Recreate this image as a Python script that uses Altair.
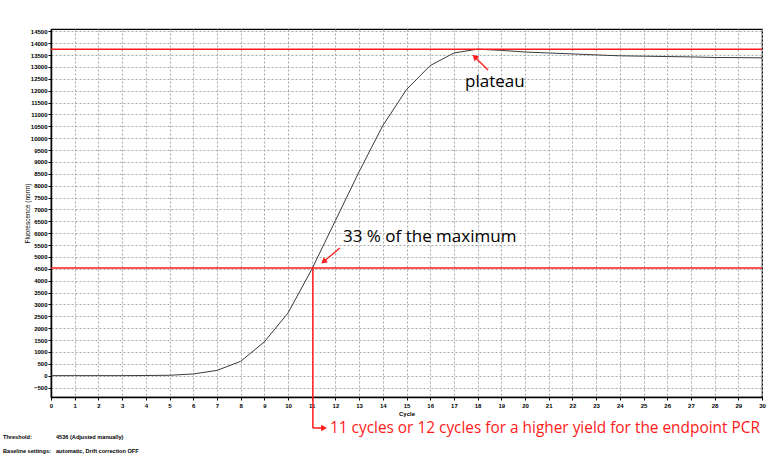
import altair as alt
import pandas as pd

cycles = list(range(0, 31))
fluorescence = [0, 0, 0, 0, 5, 15, 70, 220, 600, 1420, 2640, 4470, 6530, 8590,
                10530, 12050, 13060, 13590, 13750, 13700, 13630, 13590, 13550,
                13510, 13470, 13455, 13440, 13425, 13400, 13395, 13385]
y_ticks = list(range(-500, 15000, 500))
x_ticks = list(range(0, 31))
plateau_level = 13750
threshold_level = 4536
threshold_cycle = 11.05

df = pd.DataFrame({"Cycle": cycles, "Fluorescence": fluorescence})

W, H = 711, 368
LEFT, TOP = 51, 29

xs = alt.Scale(domain=[0, 30], nice=False, zero=False)
ys = alt.Scale(domain=[-900, 14600], nice=False, zero=False)

FONT = "Liberation Sans"
ANNOT = "Open Sans"

x_axis = alt.Axis(values=x_ticks, format="d", grid=True,
                  gridColor="#a8a8a8", gridDash=[2, 2], gridWidth=1,
                  domainColor="black", domainWidth=1.5,
                  tickColor="black", tickSize=3,
                  labelOverlap=False, labelFlush=False,
                  labelFont=FONT, labelFontSize=6, labelFontWeight="bold",
                  labelColor="black", labelPadding=2,
                  titleFont=FONT, titleFontSize=6, titleFontWeight="bold",
                  titleColor="black", titlePadding=2)
y_axis = alt.Axis(values=y_ticks, format="d", grid=True,
                  gridColor="#a8a8a8", gridDash=[2, 2], gridWidth=1,
                  domainColor="black", domainWidth=1.5,
                  tickColor="black", tickSize=3,
                  labelOverlap=False, labelFlush=False,
                  labelFont=FONT, labelFontSize=6, labelFontWeight="bold",
                  labelColor="black", labelPadding=1,
                  titleFont=FONT, titleFontSize=6.5, titleFontWeight="normal",
                  titleColor="black", titlePadding=0)


def X(field):
    return alt.X(field, scale=xs, axis=x_axis, title="Cycle")


def Y(field):
    return alt.Y(field, scale=ys, axis=y_axis, title="Fluorescence (norm)")


line = alt.Chart(df).mark_line(color="#3a3a3a", strokeWidth=1).encode(
    x=X("Cycle:Q"), y=Y("Fluorescence:Q"))

red = "#ff1a1a"

hrules = alt.Chart(pd.DataFrame({"y": [plateau_level, threshold_level]})).mark_rule(
    color=red, strokeWidth=1.5).encode(y=Y("y:Q"))

vrule = alt.Chart(pd.DataFrame({"x": [threshold_cycle], "y": [threshold_level]})).mark_rule(
    color=red, strokeWidth=1.5, clip=False).encode(
    x=X("x:Q"), y=Y("y:Q"), y2=alt.value(399))

hseg = alt.Chart(pd.DataFrame({"x": [threshold_cycle], "x2": [11.45]})).mark_rule(
    color=red, strokeWidth=1.5, clip=False).encode(
    x=X("x:Q"), x2="x2:Q", y=alt.value(399))

arrows = pd.DataFrame({
    "x": [12.19, 18.44], "y": [5374, 12871],
    "x2": [11.52, 17.9], "y2": [4820, 13400],
})
shafts = alt.Chart(arrows).mark_rule(color=red, strokeWidth=1.3, clip=False).encode(
    x=X("x:Q"), y=Y("y:Q"), x2="x2:Q", y2="y2:Q")

heads = pd.DataFrame({
    "x": [11.5, 17.88], "y": [4800, 13430], "angle": [230, 315],
})
head_marks = alt.Chart(heads).mark_point(shape="triangle-up", filled=True, color=red,
                                         size=45, opacity=1, clip=False).encode(
    x=X("x:Q"), y=Y("y:Q"),
    angle=alt.Angle("angle:Q", scale=None))

head_bottom = alt.Chart(pd.DataFrame({"x": [11.52]})).mark_point(
    shape="triangle-up", filled=True, color=red, size=45, opacity=1, angle=90,
    clip=False).encode(x=X("x:Q"), y=alt.value(399))

annot = pd.DataFrame({
    "x": [12.32, 17.47], "y": [5838, 12366],
    "label": ["33 % of the maximum", "plateau"],
})
annot_text = alt.Chart(annot).mark_text(align="left", baseline="middle", font=ANNOT,
                                        fontSize=17, color="black", clip=False).encode(
    x=X("x:Q"), y=Y("y:Q"), text="label:N")

bottom_text = alt.Chart(pd.DataFrame({
    "x": [11.77], "label": ["11 cycles or 12 cycles for a higher yield for the endpoint PCR"]
})).mark_text(align="left", baseline="middle", font=ANNOT, fontSize=15.4, color=red,
              clip=False).encode(x=X("x:Q"), y=alt.value(399), text="label:N")

info = pd.DataFrame({
    "px": [-48, 5, -48, 5],
    "py": [408, 408, 422, 422],
    "label": ["Threshold:", "4536 (Adjusted manually)",
              "Baseline settings:", "automatic, Drift correction OFF"],
})
info_text = alt.Chart(info).mark_text(align="left", baseline="middle", font=FONT,
                                      fontSize=5.6, fontWeight="bold", color="black",
                                      clip=False).encode(
    x=alt.X("px:Q", scale=None, axis=None), y=alt.Y("py:Q", scale=None, axis=None),
    text="label:N")

chart = alt.layer(line, hrules, vrule, hseg, shafts, head_marks, head_bottom,
                  annot_text, bottom_text, info_text).properties(
    width=W, height=H,
    autosize=alt.AutoSizeParams(type="none"),
    padding={"left": LEFT, "top": TOP, "right": 771 - LEFT - W, "bottom": 457 - TOP - H},
    background="white",
).configure_view(stroke="black", strokeWidth=1.2).configure_axis(labelOverlap=False)

chart.save("out.html", embed_options={"renderer": "svg", "actions": False})
